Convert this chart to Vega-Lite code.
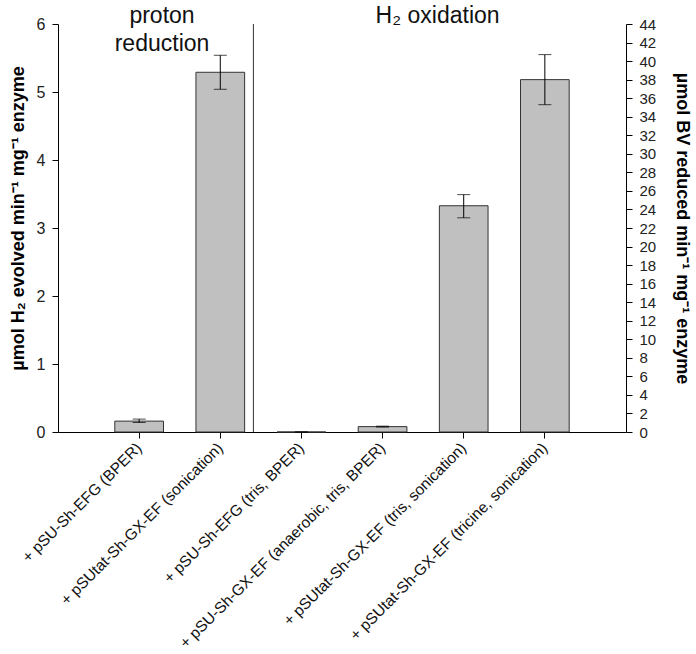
{
  "$schema": "https://vega.github.io/schema/vega-lite/v6.json",
  "autosize": {"type": "none"},
  "padding": {"left": 58, "top": 24, "right": 70, "bottom": 222},
  "width": 568,
  "height": 408,
  "background": "white",
  "config": {
    "view": {"stroke": null},
    "font": "Liberation Sans",
    "axis": {"labelFont": "Liberation Sans", "titleFont": "Liberation Sans", "labelColor": "#222", "titleColor": "#000", "domainColor": "#000", "tickColor": "#000", "grid": false}
  },
  "datasets": {
    "bars": [
      {"cat": "+ pSU-Sh-EFG (BPER)", "axis": "left", "value": 0.16, "lo": 0.14, "hi": 0.19},
      {"cat": "+ pSUtat-Sh-GX-EF (sonication)", "axis": "left", "value": 5.29, "lo": 5.04, "hi": 5.54},
      {"cat": "+ pSU-Sh-EFG (tris, BPER)", "axis": "right", "value": 0.0, "lo": 0.0, "hi": 0.0},
      {"cat": "+ pSU-Sh-GX-EF (anaerobic, tris, BPER)", "axis": "right", "value": 0.58, "lo": 0.53, "hi": 0.63},
      {"cat": "+ pSUtat-Sh-GX-EF (tris, sonication)", "axis": "right", "value": 24.4, "lo": 23.1, "hi": 25.6},
      {"cat": "+ pSUtat-Sh-GX-EF (tricine, sonication)", "axis": "right", "value": 38.0, "lo": 35.3, "hi": 40.7}
    ],
    "headers": [
      {"cat": "+ pSU-Sh-EFG (BPER)", "label": "proton", "y": 6.02, "pos": "left"},
      {"cat": "+ pSU-Sh-EFG (BPER)", "label": "reduction", "y": 5.61, "pos": "left"},
      {"cat": "+ pSU-Sh-GX-EF (anaerobic, tris, BPER)", "label": "H₂ oxidation", "y": 6.02, "pos": "right"}
    ],
    "divider": [
      {"cat": "+ pSUtat-Sh-GX-EF (sonication)"}
    ]
  },
  "encoding": {
    "x": {
      "field": "cat",
      "type": "nominal",
      "sort": null,
      "scale": {
        "domain": ["+ pSU-Sh-EFG (BPER)", "+ pSUtat-Sh-GX-EF (sonication)", "+ pSU-Sh-EFG (tris, BPER)", "+ pSU-Sh-GX-EF (anaerobic, tris, BPER)", "+ pSUtat-Sh-GX-EF (tris, sonication)", "+ pSUtat-Sh-GX-EF (tricine, sonication)"],
        "paddingInner": 0.4,
        "paddingOuter": 0.7
      },
      "axis": {"title": null, "labelAngle": -45, "labelAlign": "right", "labelBaseline": "middle", "labelFontSize": 15.5, "labelPadding": 7, "tickSize": 6, "labelLimit": 400, "labelColor": "#111"}
    }
  },
  "layer": [
    {
      "data": {"name": "bars"},
      "transform": [{"filter": "datum.axis == 'left'"}],
      "encoding": {
        "y": {"type": "quantitative", "scale": {"domain": [0, 6], "nice": false, "zero": true},
          "axis": {"orient": "left", "values": [0, 1, 2, 3, 4, 5, 6], "labelFontSize": 16, "tickSize": 6, "labelPadding": 7,
            "title": "µmol H₂ evolved min⁻¹  mg⁻¹  enzyme", "titleFontSize": 18, "titleFontWeight": "bold", "titlePadding": 9, "titleY": 194}}
      },
      "layer": [
        {"mark": {"type": "bar", "fill": "#c0c0c0", "stroke": "#333", "strokeWidth": 1}, "encoding": {"y": {"field": "value", "type": "quantitative"}}},
        {"mark": {"type": "rule", "color": "#000", "strokeWidth": 1}, "encoding": {"y": {"field": "lo", "type": "quantitative"}, "y2": {"field": "hi"}}},
        {"mark": {"type": "tick", "color": "#000", "size": 13, "thickness": 1, "orient": "horizontal"}, "encoding": {"y": {"field": "lo", "type": "quantitative"}}},
        {"mark": {"type": "tick", "color": "#000", "size": 13, "thickness": 1, "orient": "horizontal"}, "encoding": {"y": {"field": "hi", "type": "quantitative"}}},
        {
          "data": {"name": "headers"},
          "transform": [{"filter": "datum.pos == 'left'"}],
          "mark": {"type": "text", "fontSize": 23, "font": "Liberation Sans", "color": "#111", "baseline": "alphabetic", "align": "center"},
          "encoding": {"x": {"field": "cat", "type": "nominal", "bandPosition": 0.97}, "y": {"field": "y", "type": "quantitative"}, "text": {"field": "label"}}
        }
      ]
    },
    {
      "data": {"name": "bars"},
      "transform": [{"filter": "datum.axis == 'right'"}],
      "encoding": {
        "y": {"type": "quantitative", "scale": {"domain": [0, 44], "nice": false, "zero": true},
          "axis": {"orient": "right", "values": [0, 2, 4, 6, 8, 10, 12, 14, 16, 18, 20, 22, 24, 26, 28, 30, 32, 34, 36, 38, 40, 42, 44], "labelFontSize": 15, "tickSize": 6, "labelPadding": 7,
            "title": "µmol BV reduced min⁻¹  mg⁻¹  enzyme", "titleFontSize": 18, "titleFontWeight": "bold", "titlePadding": 17}}
      },
      "layer": [
        {"mark": {"type": "bar", "fill": "#c0c0c0", "stroke": "#333", "strokeWidth": 1}, "encoding": {"y": {"field": "value", "type": "quantitative"}}},
        {"mark": {"type": "rule", "color": "#000", "strokeWidth": 1}, "encoding": {"y": {"field": "lo", "type": "quantitative"}, "y2": {"field": "hi"}}},
        {"mark": {"type": "tick", "color": "#000", "size": 13, "thickness": 1, "orient": "horizontal"}, "encoding": {"y": {"field": "lo", "type": "quantitative"}}},
        {"mark": {"type": "tick", "color": "#000", "size": 13, "thickness": 1, "orient": "horizontal"}, "encoding": {"y": {"field": "hi", "type": "quantitative"}}}
      ]
    },
    {
      "data": {"name": "headers"},
      "transform": [{"filter": "datum.pos == 'right'"}],
      "mark": {"type": "text", "fontSize": 23, "font": "Liberation Sans", "color": "#111", "baseline": "alphabetic", "align": "center"},
      "encoding": {"x": {"field": "cat", "type": "nominal", "bandPosition": 1.63}, "y": {"field": "y", "type": "quantitative", "scale": {"domain": [0, 6], "nice": false}, "axis": null}, "text": {"field": "label"}}
    },
    {
      "data": {"name": "divider"},
      "mark": {"type": "rule", "color": "#333", "strokeWidth": 1},
      "encoding": {"x": {"field": "cat", "type": "nominal", "bandPosition": 1.18}}
    }
  ],
  "resolve": {"scale": {"y": "independent"}, "axis": {"y": "independent"}}
}
